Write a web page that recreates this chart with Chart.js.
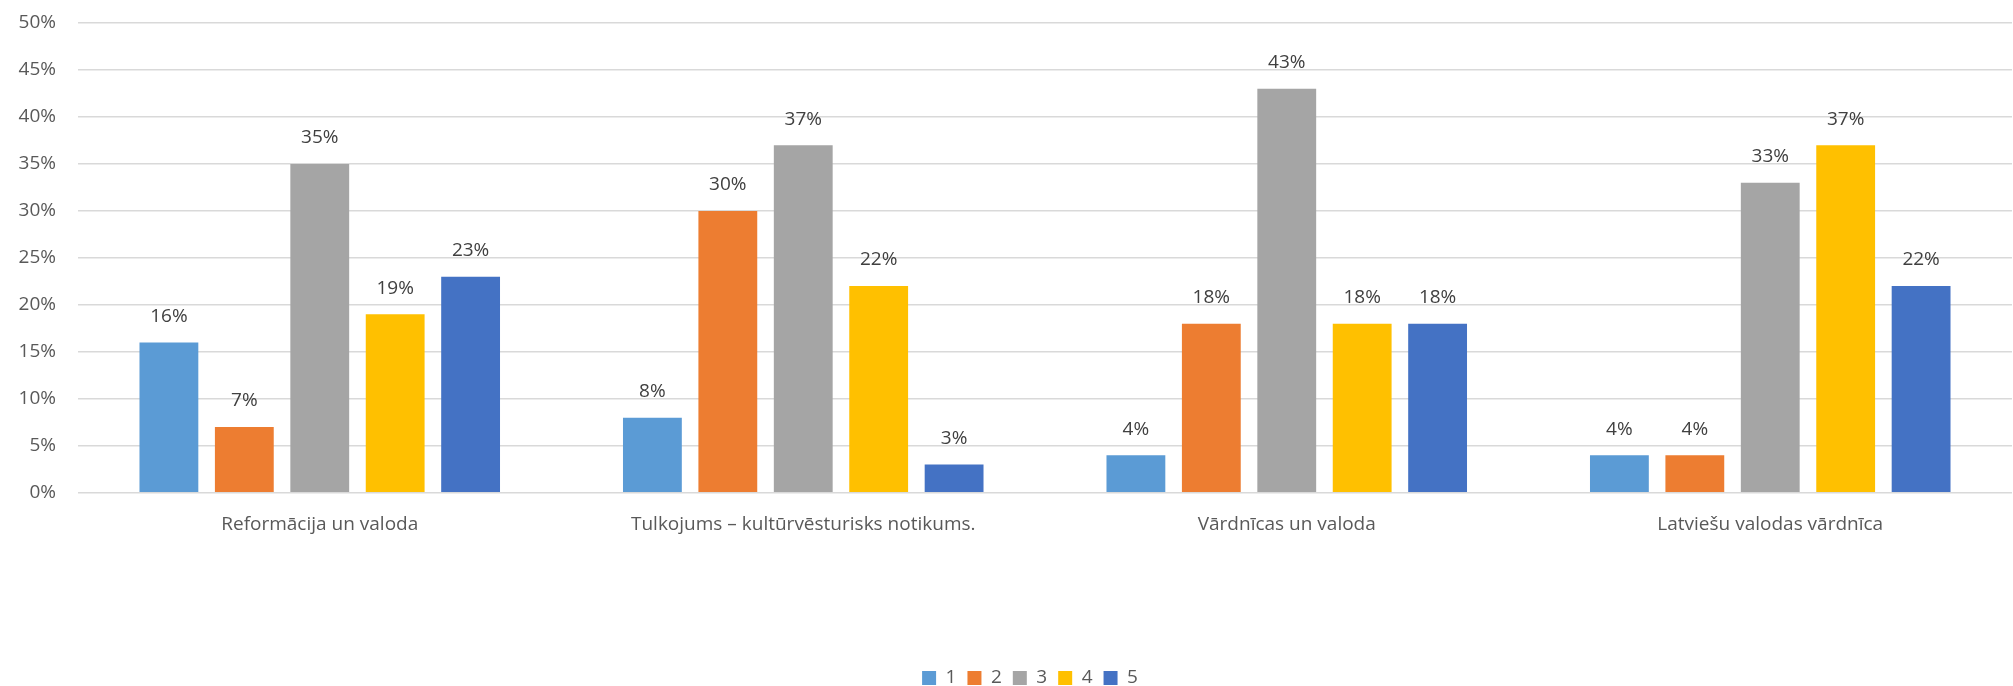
<!DOCTYPE html>
<html>
<head>
<meta charset="utf-8">
<script src="https://cdn.jsdelivr.net/npm/chart.js@4/dist/chart.umd.min.js"></script>
<style>
html,body{margin:0;padding:0;background:#fff;}
#wrap{width:2013px;height:686px;position:relative;}
</style>
</head>
<body>
<div id="wrap"><canvas id="c" width="2013" height="686"></canvas></div>
<script>
const categories = ["Reformācija un valoda", "Tulkojums – kultūrvēsturisks notikums.", "Vārdnīcas un valoda", "Latviešu valodas vārdnīca"];
const seriesNames = ["1", "2", "3", "4", "5"];
const s1 = [16, 8, 4, 4];
const s2 = [7, 30, 18, 4];
const s3 = [35, 37, 43, 33];
const s4 = [19, 22, 18, 37];
const s5 = [23, 3, 18, 22];
const colors = ["#5B9BD5", "#ED7D31", "#A5A5A5", "#FFC000", "#4472C4"];
const yTicks = [0, 5, 10, 15, 20, 25, 30, 35, 40, 45, 50];

const FONT = "'Open Sans', 'Liberation Sans', sans-serif";

const dataLabels = {
  id: 'dataLabels',
  afterLayout(chart) {
    if (chart.legend) { chart.legend.left += 24; chart.legend.right += 24; }
  },
  afterDatasetsDraw(chart) {
    const ctx = chart.ctx;
    ctx.save();
    ctx.font = "19px " + FONT;
    ctx.fillStyle = "#404040";
    ctx.textAlign = "center";
    ctx.textBaseline = "middle";
    chart.data.datasets.forEach((ds, i) => {
      const meta = chart.getDatasetMeta(i);
      meta.data.forEach((bar, j) => {
        ctx.fillText(ds.data[j] + "%", bar.x, bar.y - 26);
      });
    });
    ctx.restore();
  }
};

const allSeries = [s1, s2, s3, s4, s5];
new Chart(document.getElementById('c'), {
  type: 'bar',
  data: {
    labels: categories,
    datasets: allSeries.map((d, i) => ({
      label: seriesNames[i],
      data: d,
      backgroundColor: colors[i],
      borderWidth: 0,
      categoryPercentage: 0.78,
      barPercentage: 0.78
    }))
  },
  options: {
    responsive: false,
    animation: false,
    devicePixelRatio: 1,
    layout: { padding: { top: 23, right: 1, left: 0, bottom: -11.4 } },
    plugins: {
      legend: {
        position: 'bottom',
        labels: {
          boxWidth: 14, boxHeight: 14, padding: 11,
          color: "#595959",
          font: { family: FONT, size: 19 }
        }
      },
      tooltip: { enabled: false }
    },
    scales: {
      x: {
        grid: { display: false },
        border: { display: false },
        ticks: { color: "#595959", font: { family: FONT, size: 19 }, padding: 12 },
        afterFit(s) { s.height = 164.6; }
      },
      y: {
        min: 0, max: 50,
        afterBuildTicks(s) { s.ticks = yTicks.map(v => ({ value: v })); },
        grid: { color: "#d9d9d9", lineWidth: 1.5, drawTicks: false },
        border: { display: false },
        ticks: {
          color: "#595959", font: { family: FONT, size: 19 }, padding: 22,
          callback: v => v + "%"
        },
        afterFit(s) { s.width = 78; s.paddingTop = 0; s.paddingBottom = 0; }
      }
    }
  },
  plugins: [dataLabels]
});
</script>
</body>
</html>
